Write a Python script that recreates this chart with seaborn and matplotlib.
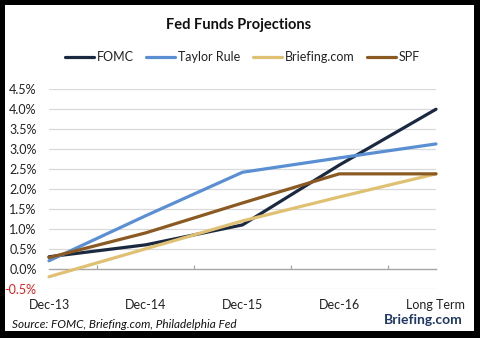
import matplotlib
matplotlib.use("Agg")
import matplotlib.pyplot as plt
import matplotlib.patches as mpatches
from matplotlib.ticker import FuncFormatter
import numpy as np
import pandas as pd
import seaborn as sns

# Projection horizons and projected fed funds rates (%)
periods = ["Dec-13", "Dec-14", "Dec-15", "Dec-16", "Long Term"]
fomc = [0.30, 0.60, 1.10, 2.60, 4.00]
taylor_rule = [0.20, 1.33, 2.42, 2.78, 3.13]
briefing = [-0.20, 0.50, 1.20, 1.80, 2.38]
spf = [0.28, 0.90, 1.65, 2.38, 2.38]

series_names = ["FOMC", "Taylor Rule", "Briefing.com", "SPF"]
series_colors = ["#1b2940", "#5a8fd3", "#e0c072", "#8a5a22"]
y_ticks = [-0.5, 0.0, 0.5, 1.0, 1.5, 2.0, 2.5, 3.0, 3.5, 4.0, 4.5]

df = pd.DataFrame({
    "period": periods * 4,
    "rate": fomc + taylor_rule + briefing + spf,
    "series": np.repeat(series_names, len(periods)),
})

sns.set_theme(style="white")
plt.rcParams["font.family"] = ["Lato", "DejaVu Sans"]

W, H = 480, 338
fig = plt.figure(figsize=(W / 100, H / 100), dpi=100, facecolor="black")
# white panel inside the black frame
fig.patches.append(mpatches.Rectangle((5 / W, 1 - 331 / H), (474 - 5) / W, (331 - 5) / H,
                                      transform=fig.transFigure, facecolor="white",
                                      edgecolor="none", zorder=-10))

ax = fig.add_axes([49 / W, 1 - 288.7 / H, (436 - 49) / W, (288.7 - 89.3) / H])
ax.set_facecolor("none")

sns.lineplot(data=df, x="period", y="rate", hue="series", hue_order=series_names,
             palette=series_colors, linewidth=2.3, sort=False, legend=False,
             ax=ax, zorder=3)
for ln in ax.lines:
    ln.set_clip_on(False)
    ln.set_solid_joinstyle("round")

ax.set_xlim(0, len(periods) - 1)
ax.set_ylim(-0.5, 4.5)
ax.set_xlabel("")
ax.set_ylabel("")

# horizontal gridlines
ax.set_yticks(y_ticks)
for v in y_ticks:
    if v != 0:
        ax.axhline(v, color="#d9d9d9", linewidth=0.9, zorder=1)
ax.yaxis.set_major_formatter(FuncFormatter(lambda v, p: f"{v:.1f}%"))
ax.tick_params(axis="y", length=0, pad=9, labelsize=9, labelcolor="#222222")
fig.canvas.draw()
for lab, v in zip(ax.get_yticklabels(), y_ticks):
    if v < 0:
        lab.set_color("#e02020")

# category axis sits on the zero line
for s in ["top", "right", "left"]:
    ax.spines[s].set_visible(False)
ax.spines["bottom"].set_position(("data", 0))
ax.spines["bottom"].set_color("#a6a6a6")
ax.spines["bottom"].set_linewidth(1.0)
ax.set_xticks(range(len(periods)), labels=periods)
ax.set_xticks(np.arange(0.5, len(periods) - 1, 1.0), minor=True)
ax.tick_params(axis="x", which="major", direction="inout", length=6, width=0.9,
               color="#a6a6a6", pad=19, labelsize=9, labelcolor="#222222")
ax.tick_params(axis="x", which="minor", direction="in", length=3, width=0.9,
               color="#a6a6a6", bottom=True)

fig.text(0.498, 1 - 25 / H, "Fed Funds Projections", ha="center", va="center",
         fontsize=10.5, fontweight="bold", color="#111111")

handles = [plt.Line2D([], [], color=c, linewidth=2.3) for c in series_colors]
fig.legend(handles, series_names, loc="center", bbox_to_anchor=(242.5 / W, 1 - 57 / H),
           ncol=4, frameon=False, fontsize=9, handlelength=2.3, handletextpad=0.25,
           columnspacing=1.0, labelcolor="#222222")

fig.text(12 / W, 1 - 325 / H, "Source: FOMC, Briefing.com, Philadelphia Fed",
         ha="left", va="center", fontsize=8.5, fontstyle="italic", color="#111111")
fig.text(463 / W, 1 - 320.5 / H, "Briefing.com", ha="right", va="center",
         fontsize=10, fontweight="bold", color="#1f3864")

fig.savefig("out.png", dpi=100, facecolor="black")
